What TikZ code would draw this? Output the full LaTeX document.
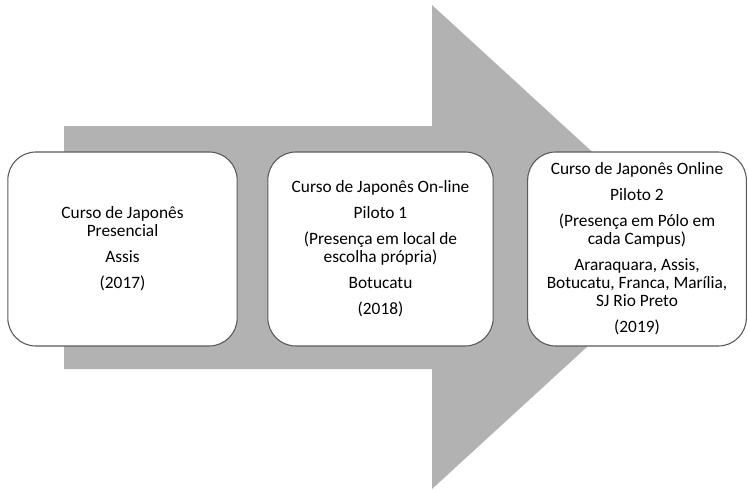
\documentclass[tikz,border=0pt]{standalone}
\usepackage{fontspec}
\setmainfont{Carlito}
\usetikzlibrary{positioning}

\tikzset{>=latex}
\tikzset{
  stagebox/.style={draw=black!65,line width=0.8pt,fill=white,rounded corners=21pt,
    minimum height=145.5pt,inner sep=1pt,align=center,font=\fontsize{13}{13.5}\selectfont},
}

\begin{document}
\begin{tikzpicture}[x=0.75pt,y=-0.75pt]
  \def\W{748} % picture width
  \def\H{489} % picture height
  \useasboundingbox (0,0) rectangle (\W,\H);
  % big grey arrow behind the boxes
  \fill[gray!60] (64,126) -- (432,126) -- (432,5) -- (696,247)
    -- (432,489) -- (432,369) -- (64,369) -- cycle;
  % the three stages
  \node[stagebox,minimum width=172pt] (presencial) at (122.5,249)
    {Curso de Japonês\\Presencial\\[6pt]Assis\\[6pt](2017)};
  \node[stagebox,minimum width=169pt] (piloto1) at (380.5,249)
    {Curso de Japonês On-line\\[6pt]Piloto 1\\[6pt](Presença em local de\\escolha própria)\\[6pt]Botucatu\\[6pt](2018)};
  \node[stagebox,minimum width=164pt] (piloto2) at (637,249)
    {Curso de Japonês Online\\[6pt]Piloto 2\\[6pt](Presença em Pólo em\\cada Campus)\\[6pt]Araraquara, Assis,\\Botucatu, Franca, Marília,\\SJ Rio Preto\\[6pt](2019)};
\end{tikzpicture}
\end{document}
